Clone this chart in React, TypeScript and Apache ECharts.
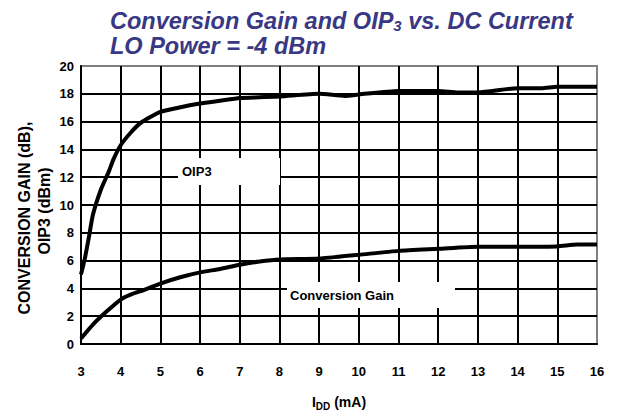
import React, { useEffect, useRef } from "react";
import * as echarts from "echarts";

const oip3Current = [3.0, 3.1, 3.2, 3.3, 3.5, 3.7, 3.82, 4.0, 4.25, 4.5, 5.0, 5.45, 6.0, 6.5, 7.0, 7.5, 8.0, 9.0, 9.65, 10.0, 11.0, 12.0, 12.5, 13.0, 14.0, 14.6, 15.0, 16.0];
const oip3Values = [5.0, 6.2, 7.7, 9.3, 11.1, 12.4, 13.3, 14.3, 15.2, 15.9, 16.7, 17.0, 17.3, 17.5, 17.7, 17.75, 17.8, 18.0, 17.85, 17.95, 18.2, 18.2, 18.1, 18.1, 18.4, 18.4, 18.5, 18.5];

const gainCurrent = [3.0, 3.3, 3.65, 4.0, 4.25, 4.6, 5.0, 5.5, 6.0, 6.5, 7.0, 7.5, 8.0, 9.0, 10.0, 11.0, 12.0, 13.0, 14.0, 15.0, 15.5, 16.0];
const gainValues = [0.4, 1.4, 2.35, 3.2, 3.55, 3.9, 4.35, 4.8, 5.15, 5.4, 5.7, 5.93, 6.08, 6.15, 6.42, 6.7, 6.85, 7.0, 7.0, 7.02, 7.15, 7.15];

const xTicks = { min: 3, max: 16, step: 1 };
const yTicks = { min: 0, max: 20, step: 2 };

const FONT = "'Liberation Sans', Arial, Helvetica, sans-serif";

export default function App() {
  const ref = useRef<HTMLDivElement>(null);
  useEffect(() => {
    if (!ref.current) return;
    const chart = echarts.init(ref.current, null, { renderer: "svg" });
    const titleColor = "#383884";
    chart.setOption({
      animation: false,
      backgroundColor: "#ffffff",
      title: {
        left: 105,
        top: 3,
        text: "{a|Conversion Gain and OIP}{s|3}{a| vs. DC Current}\n{a|LO Power = -4 dBm}",
        textStyle: {
          rich: {
            a: { fontFamily: FONT, fontSize: 23.5, fontWeight: "bold", fontStyle: "italic", color: titleColor, lineHeight: 25 },
            s: { fontFamily: FONT, fontSize: 15, fontWeight: "bold", fontStyle: "italic", color: titleColor, lineHeight: 10, verticalAlign: "bottom" },
          },
        },
      },
      grid: {
        left: 81,
        right: 24,
        top: 66,
        bottom: 64,
        show: true,
        borderColor: "#808080",
        borderWidth: 2,
      },
      xAxis: {
        type: "value",
        min: xTicks.min,
        max: xTicks.max,
        interval: xTicks.step,
        axisLine: { show: true, lineStyle: { color: "#000", width: 2 } },
        axisTick: { show: false },
        axisLabel: { fontFamily: FONT, fontSize: 13, fontWeight: "bold", color: "#000", margin: 21 },
        splitLine: { show: true, showMinLine: false, showMaxLine: false, lineStyle: { color: "#000", width: 2 } },
        name: "{a|I}{s|DD}{a| (mA)}",
        nameLocation: "middle",
        nameGap: 49,
        nameTextStyle: {
          rich: {
            a: { fontFamily: FONT, fontSize: 14, fontWeight: "bold", color: "#000", lineHeight: 18 },
            s: { fontFamily: FONT, fontSize: 10, fontWeight: "bold", color: "#000", lineHeight: 6, verticalAlign: "bottom" },
          },
        },
      },
      yAxis: {
        type: "value",
        min: yTicks.min,
        max: yTicks.max,
        interval: yTicks.step,
        axisLine: { show: true, lineStyle: { color: "#000", width: 2 } },
        axisTick: { show: false },
        axisLabel: { fontFamily: FONT, fontSize: 13, fontWeight: "bold", color: "#000", margin: 7 },
        splitLine: { show: true, showMinLine: false, showMaxLine: false, lineStyle: { color: "#000", width: 2 } },
      },
      graphic: [
        {
          type: "text",
          x: 24,
          y: 218,
          rotation: Math.PI / 2,
          style: { text: "CONVERSION GAIN (dB),", fontFamily: FONT, fontSize: 16, fontWeight: "bold", fill: "#000", align: "center", verticalAlign: "middle" },
        },
        {
          type: "text",
          x: 44,
          y: 211,
          rotation: Math.PI / 2,
          style: { text: "OIP3 (dBm)", fontFamily: FONT, fontSize: 16, fontWeight: "bold", fill: "#000", align: "center", verticalAlign: "middle" },
        },
        {
          type: "rect",
          z: 10,
          shape: { x: 178, y: 158, width: 102, height: 27 },
          style: { fill: "#fff" },
        },
        {
          type: "text",
          z: 11,
          x: 182,
          y: 171,
          style: { text: "OIP3", fontFamily: FONT, fontSize: 13, fontWeight: "bold", fill: "#000", align: "left", verticalAlign: "middle" },
        },
        {
          type: "rect",
          z: 10,
          shape: { x: 287, y: 282, width: 168, height: 26 },
          style: { fill: "#fff" },
        },
        {
          type: "text",
          z: 11,
          x: 290,
          y: 295,
          style: { text: "Conversion Gain", fontFamily: FONT, fontSize: 13, fontWeight: "bold", fill: "#000", align: "left", verticalAlign: "middle" },
        },
      ],
      series: [
        {
          name: "OIP3",
          type: "line",
          data: oip3Current.map((x, i) => [x, oip3Values[i]]),
          showSymbol: false,
          smooth: 0.2,
          lineStyle: { color: "#000", width: 4 },
          z: 5,
        },
        {
          name: "Conversion Gain",
          type: "line",
          data: gainCurrent.map((x, i) => [x, gainValues[i]]),
          showSymbol: false,
          smooth: 0.2,
          lineStyle: { color: "#000", width: 4 },
          z: 5,
        },
      ],
    });
    return () => chart.dispose();
  }, []);
  return <div ref={ref} style={{ width: 621, height: 416, position: "absolute", left: 0, top: 0 }} />;
}
